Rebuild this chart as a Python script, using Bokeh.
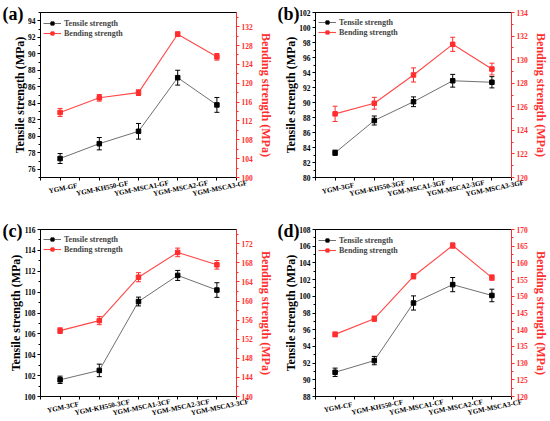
from bokeh.plotting import figure
from bokeh.models import (Range1d, LinearAxis, FixedTicker, SingleIntervalTicker,
                          ColumnDataSource, Whisker, TeeHead,
                          Legend, LegendItem, GlobalInlineStyleSheet)
from bokeh.layouts import gridplot
from bokeh.core.properties import value
from bokeh.embed import file_html
from bokeh.resources import INLINE

FONT = "Liberation Serif"
RED = "#ff2e2e"
RED_LINE = "#ff4848"
GRAY = "#707070"

# ---------------- data ----------------
cats_a = ["YGM-GF", "YGM-KH550-GF", "YGM-MSCA1-GF", "YGM-MSCA2-GF", "YGM-MSCA3-GF"]
tens_a = [77.3, 79.1, 80.6, 87.1, 83.8]
tens_err_a = [0.6, 0.75, 0.95, 0.9, 0.9]
bend_a = [113.8, 116.9, 118.0, 130.4, 125.6]
bend_err_a = [0.85, 0.7, 0.6, 0.5, 0.7]

cats_b = ["YGM-3GF", "YGM-KH550-3GF", "YGM-MSCA1-3GF", "YGM-MSCA2-3GF", "YGM-MSCA3-3GF"]
tens_b = [83.3, 87.6, 90.1, 92.9, 92.7]
tens_err_b = [0.35, 0.6, 0.65, 0.85, 0.75]
bend_b = [125.4, 126.3, 128.7, 131.3, 129.2]
bend_err_b = [0.65, 0.5, 0.6, 0.6, 0.5]

cats_c = ["YGM-3CF", "YGM-KH550-3CF", "YGM-MSCA1-3CF", "YGM-MSCA2-3CF", "YGM-MSCA3-3CF"]
tens_c = [101.6, 102.5, 109.1, 111.6, 110.2]
tens_err_c = [0.35, 0.6, 0.42, 0.48, 0.7]
bend_c = [153.8, 155.9, 165.0, 170.2, 167.6]
bend_err_c = [0.6, 0.85, 0.95, 0.9, 0.9]

cats_d = ["YGM-CF", "YGM-KH550-CF", "YGM-MSCA1-CF", "YGM-MSCA2-CF", "YGM-MSCA3-CF"]
tens_d = [90.9, 92.3, 99.2, 101.4, 100.1]
tens_err_d = [0.5, 0.5, 0.85, 0.85, 0.75]
bend_d = [138.6, 143.3, 156.0, 165.2, 155.6]
bend_err_d = [0.7, 0.8, 0.8, 0.8, 0.8]

# axis ranges / tick steps
left_a, left_step_a, right_a, right_step_a = (75, 95), 2, (100, 135), 4
left_b, left_step_b, right_b, right_step_b = (80, 102), 2, (120, 134), 2
left_c, left_step_c, right_c, right_step_c = (100, 116), 2, (140, 175), 4
left_d, left_step_d, right_d, right_step_d = (88, 108), 2, (120, 170), 5

LEFT_LABEL = "Tensile strength (MPa)"
RIGHT_LABEL = "Bending strength (MPa)"


def style_axis(ax, color, label_standoff):
    ax.axis_line_color = color
    ax.axis_line_width = 1
    ax.major_tick_line_color = color
    ax.minor_tick_line_color = color
    ax.major_label_text_color = color
    ax.axis_label_text_color = color
    ax.major_tick_out = 3
    ax.major_tick_in = 0
    ax.minor_tick_out = 2
    ax.minor_tick_in = 0
    ax.major_label_text_font = FONT
    ax.major_label_text_font_style = "bold"
    ax.major_label_text_font_size = "7.5px"
    ax.axis_label_text_font = FONT
    ax.axis_label_text_font_style = "bold"
    ax.axis_label_text_font_size = "12px"
    ax.major_label_standoff = 2
    ax.axis_label_standoff = label_standoff


def panel(letter, cats, tens, tens_err, bend, bend_err, lrange, lstep, rrange, rstep,
          height, btop, bbot):
    xs = list(range(1, len(cats) + 1))
    frame_h = height - btop - bbot
    p = figure(width=275, height=height, output_backend="svg", toolbar_location=None,
               x_range=Range1d(0.5, len(cats) + 0.5), y_range=Range1d(*lrange),
               min_border_left=40, min_border_right=34,
               min_border_top=btop, min_border_bottom=bbot)
    p.grid.visible = False
    p.outline_line_color = "black"
    p.outline_line_width = 1
    p.background_fill_color = "white"
    p.border_fill_color = "white"
    p.extra_y_ranges = {"r": Range1d(*rrange)}

    # x axis: ticks only (category ticks and half-way ticks), labels drawn below
    p.xaxis.ticker = FixedTicker(ticks=[], minor_ticks=sorted(xs + [x - 0.5 for x in xs] + [xs[-1] + 0.5]))
    p.xaxis.axis_line_color = "black"
    p.xaxis.minor_tick_out = 3
    p.xaxis.minor_tick_in = 0
    p.xaxis.minor_tick_line_color = "black"

    # left axis
    p.yaxis.ticker = SingleIntervalTicker(interval=lstep, num_minor_ticks=2)
    p.yaxis.axis_label = LEFT_LABEL
    style_axis(p.yaxis[0], "black", -2)

    # right axis
    ra = LinearAxis(y_range_name="r", ticker=SingleIntervalTicker(interval=rstep, num_minor_ticks=2),
                    axis_label=RIGHT_LABEL)
    style_axis(ra, RED, 3)
    p.add_layout(ra, "right")

    src = ColumnDataSource(dict(
        x=xs, t=tens, tl=[v - e for v, e in zip(tens, tens_err)], tu=[v + e for v, e in zip(tens, tens_err)],
        b=bend, bl=[v - e for v, e in zip(bend, bend_err)], bu=[v + e for v, e in zip(bend, bend_err)],
    ))

    lt = p.line("x", "t", source=src, line_color=GRAY, line_width=1)
    lb = p.line("x", "b", source=src, line_color=RED_LINE, line_width=1.1, y_range_name="r")

    wt = Whisker(source=src, base="x", upper="tu", lower="tl", line_color="black", line_width=1,
                 upper_head=TeeHead(size=5, line_color="black", line_width=1),
                 lower_head=TeeHead(size=5, line_color="black", line_width=1), level="glyph")
    wb = Whisker(source=src, base="x", upper="bu", lower="bl", line_color=RED, line_width=1,
                 upper_head=TeeHead(size=5, line_color=RED, line_width=1),
                 lower_head=TeeHead(size=5, line_color=RED, line_width=1),
                 y_range_name="r", level="glyph")
    p.add_layout(wt)
    p.add_layout(wb)

    st = p.scatter("x", "t", source=src, marker="square", size=4.5, fill_color="black", line_color="black")
    sb = p.scatter("x", "b", source=src, marker="square", size=4.5, fill_color=RED, line_color=RED,
                   y_range_name="r")

    legend = Legend(items=[LegendItem(label="Tensile strength", renderers=[lt, st]),
                           LegendItem(label="Bending strength", renderers=[lb, sb])],
                    location=(3, frame_h - 26), border_line_color=None, background_fill_alpha=0,
                    label_text_font=FONT, label_text_font_style="bold", label_text_font_size="8px",
                    glyph_width=18, glyph_height=8, label_height=10, label_standoff=3,
                    spacing=0, padding=5, margin=0)
    p.add_layout(legend)

    # rotated category labels (overlay level so they are not clipped to the frame)
    lab_src = ColumnDataSource(dict(x=xs, y=[lrange[0]] * len(xs), t=cats))
    p.text(x="x", y="y", text="t", source=lab_src, angle=0.2,
           text_align="center", text_baseline="middle",
           x_offset=3, y_offset=11,
           text_font=value(FONT), text_font_style="bold",
           text_font_size="7px", text_color="black", level="overlay")

    # panel letter
    let_src = ColumnDataSource(dict(x=[0.5], y=[lrange[1]], t=["(%s)" % letter]))
    p.text(x="x", y="y", text="t", source=let_src, x_offset=-38, y_offset=-9,
           text_align="left", text_baseline="top",
           text_font=value(FONT), text_font_style="bold",
           text_font_size="18px", text_color="black", level="overlay")
    return p


pa = panel("a", cats_a, tens_a, tens_err_a, bend_a, bend_err_a, left_a, left_step_a, right_a, right_step_a, 210, 12, 33)
pb = panel("b", cats_b, tens_b, tens_err_b, bend_b, bend_err_b, left_b, left_step_b, right_b, right_step_b, 210, 11, 33)
pc = panel("c", cats_c, tens_c, tens_err_c, bend_c, bend_err_c, left_c, left_step_c, right_c, right_step_c, 211, 18, 25)
pd = panel("d", cats_d, tens_d, tens_err_d, bend_d, bend_err_d, left_d, left_step_d, right_d, right_step_d, 211, 19, 25)

grid = gridplot([[pa, pb], [pc, pd]], toolbar_location=None)
grid.stylesheets = [GlobalInlineStyleSheet(css="html, body { margin: 0 !important; padding: 0 !important; overflow: hidden; }")]

open("out.html", "w").write(file_html(grid, INLINE))
